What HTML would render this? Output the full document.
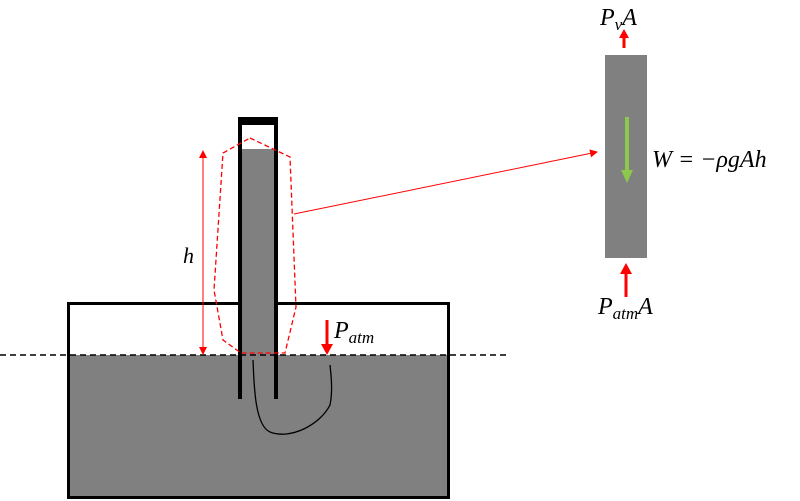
<!DOCTYPE html>
<html><head><meta charset="utf-8"><style>body{margin:0;background:#fff}svg{display:block}text{font-family:"Liberation Serif",serif;font-style:italic}</style></head>
<body>
<svg width="800" height="501" viewBox="0 0 800 501">
<defs>
<marker id="ar" markerWidth="8" markerHeight="8" refX="7" refY="4" orient="auto" markerUnits="userSpaceOnUse"><path d="M0,0 L8,4 L0,8 z" fill="red"/></marker>
</defs>
<rect x="69" y="355" width="379" height="141" fill="#808080"/>
<rect x="68.5" y="303.5" width="380" height="194" fill="none" stroke="#000" stroke-width="3"/>
<rect x="242" y="149" width="32" height="250" fill="#808080"/>
<rect x="238" y="117" width="4" height="282" fill="#000"/>
<rect x="274" y="117" width="4" height="282" fill="#000"/>
<rect x="238" y="117" width="40" height="8" fill="#000"/>
<line x1="0" y1="355" x2="510" y2="355" stroke="#000" stroke-width="1.5" stroke-dasharray="6,4"/>
<path d="M253,360 C254,380 254,425 270,432 C290,440 320,425 330,405 C333,390 331,375 330,365" fill="none" stroke="#000" stroke-width="1.3"/>
<path d="M250,138 L290,157 L296,307 L285,353 L241,353 L223,340 L214,290 L223,153 Z" fill="none" stroke="red" stroke-width="1.3" stroke-dasharray="5,3"/>
<line x1="294" y1="214" x2="597" y2="152" stroke="red" stroke-width="1" marker-end="url(#ar)"/>
<line x1="203" y1="156" x2="203" y2="349" stroke="red" stroke-width="1"/>
<path d="M203,150 L199,158 L207,158 Z M203,355 L199,347 L207,347 Z" fill="red"/>
<text x="183" y="263" font-size="22">h</text>
<line x1="327" y1="320" x2="327" y2="346" stroke="red" stroke-width="3"/>
<path d="M321,344 L333,344 L327,355 Z" fill="red"/>
<text x="334" y="338" font-size="24">P<tspan font-size="17" dy="5">atm</tspan></text>
<rect x="605" y="55" width="42" height="203" fill="#808080"/>
<line x1="627" y1="117" x2="627" y2="172" stroke="#8cc84b" stroke-width="4"/>
<path d="M621,170 L633,170 L627,183 Z" fill="#8cc84b"/>
<line x1="624" y1="48" x2="624" y2="36" stroke="red" stroke-width="3"/>
<path d="M619,38 L629,38 L624,29 Z" fill="red"/>
<text x="600" y="25" font-size="24">P<tspan font-size="17" dy="5">v</tspan><tspan dy="-5">A</tspan></text>
<line x1="626" y1="297" x2="626" y2="272" stroke="red" stroke-width="3"/>
<path d="M620,274 L632,274 L626,263 Z" fill="red"/>
<text x="598" y="314" font-size="24">P<tspan font-size="17" dy="5">atm</tspan><tspan dy="-5">A</tspan></text>
<text x="652" y="167" font-size="24">W = −ρgAh</text>
</svg>
</body></html>
